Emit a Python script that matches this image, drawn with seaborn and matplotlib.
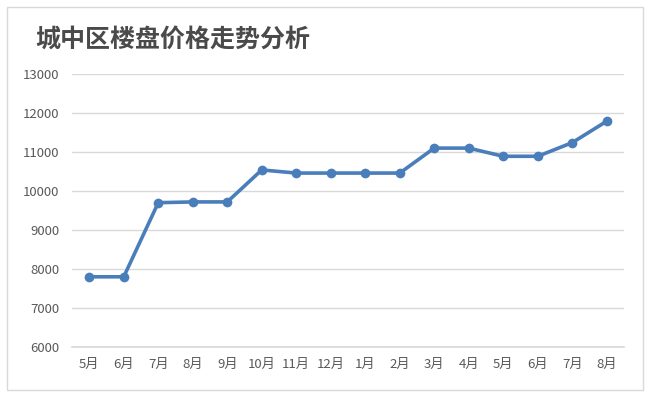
import matplotlib
matplotlib.use("Agg")
import matplotlib.pyplot as plt
import seaborn as sns
import pandas as pd
from matplotlib.patches import Rectangle

months = ["5月", "6月", "7月", "8月", "9月", "10月", "11月", "12月", "1月", "2月",
          "3月", "4月", "5月", "6月", "7月", "8月"]
prices = [7800, 7800, 9700, 9720, 9720, 10540, 10460, 10460, 10460, 10460,
          11100, 11100, 10890, 10890, 11240, 11790]
yticks = [6000, 7000, 8000, 9000, 10000, 11000, 12000, 13000]
title = "城中区楼盘价格走势分析"

sns.set_theme(style="white")
plt.rcParams['font.family'] = ['Noto Sans CJK SC', 'DejaVu Sans']

df = pd.DataFrame({"idx": list(range(len(months))), "price": prices})

fig = plt.figure(figsize=(6.5, 3.97), dpi=100)
fig.patches.append(Rectangle((7/650, 7/397), 636/650, 383/397, transform=fig.transFigure,
                             fill=False, edgecolor="#d9d9d9", linewidth=1.0))
ax = fig.add_axes([72/650, 1 - 347/397, (624 - 72)/650, (347 - 74)/397])

sns.lineplot(data=df, x="idx", y="price", ax=ax, color="#4a7ebb", linewidth=2.6,
             marker="o", markersize=7, markeredgewidth=0, legend=False)

ax.set_xlim(-0.5, len(months) - 0.5)
ax.set_ylim(6000, 13000)
ax.set_yticks(yticks)
ax.set_yticklabels([str(v) for v in yticks])
ax.set_xticks(range(len(months)))
ax.set_xticklabels(months)
ax.grid(axis="y", color="#d9d9d9", linewidth=1.0)
ax.set_axisbelow(True)
for s in ["top", "right", "left"]:
    ax.spines[s].set_visible(False)
ax.spines["bottom"].set_color("#d9d9d9")
ax.tick_params(axis="both", length=0, labelsize=9.5, colors="#595959")
ax.tick_params(axis="y", pad=9)
ax.tick_params(axis="x", pad=8)
ax.set_xlabel("")
ax.set_ylabel("")

fig.text(35/650, 1 - 40/397, title, fontsize=18, color="#4a4a4a", fontweight="bold",
         va="center", ha="left")

fig.savefig("out.png", dpi=100)
